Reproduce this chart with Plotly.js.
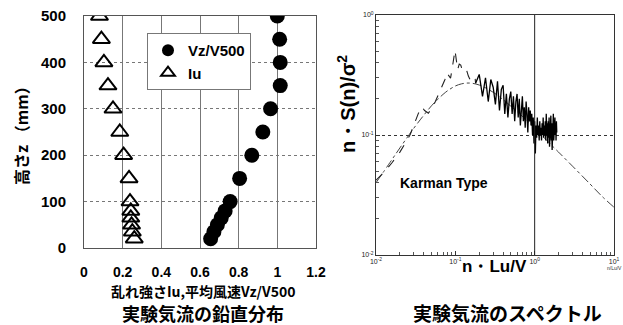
<!DOCTYPE html>
<html>
<head>
<meta charset="utf-8">
<script src="https://cdn.plot.ly/plotly-3.0.1.min.js"></script>
<style>html,body{margin:0;padding:0;background:#fff;}#chart{width:623px;height:325px;}</style>
</head>
<body>
<div id="chart"></div>
<script>
// ---- Left chart: vertical profile ----
const heights = [500, 450, 400, 350, 300, 250, 200, 150, 100, 80, 65, 50, 35, 20];
const vzRatio = [1.0, 1.012, 1.015, 1.015, 0.965, 0.925, 0.868, 0.805, 0.756, 0.73, 0.71, 0.69, 0.672, 0.655];
const iuValue = [0.08, 0.09, 0.103, 0.124, 0.15, 0.185, 0.205, 0.233, 0.238, 0.242, 0.242, 0.246, 0.25, 0.26];
const xTicks = [0, 0.2, 0.4, 0.6, 0.8, 1.0, 1.2];
const xTickText = ['0', '0.2', '0.4', '0.6', '0.8', '1', '1.2'];
const yTicks = [0, 100, 200, 300, 400, 500];

// ---- Right chart: spectrum ----
const karmanFreq = [0.01, 0.015, 0.02, 0.03, 0.04, 0.05, 0.06, 0.07, 0.08, 0.1, 0.12, 0.15, 0.2, 0.3, 0.4, 0.5, 0.7, 1.0, 1.5, 2, 3, 5, 7, 10];
const karmanVal  = [0.040, 0.059, 0.078, 0.114, 0.146, 0.175, 0.198, 0.218, 0.234, 0.256, 0.267, 0.271, 0.261, 0.227, 0.197, 0.174, 0.143, 0.114, 0.087, 0.072, 0.055, 0.039, 0.031, 0.025];

const measLowFreq = [0.01, 0.013, 0.016, 0.02, 0.024, 0.027, 0.031, 0.034, 0.0377, 0.041, 0.0457, 0.05, 0.056, 0.062, 0.068, 0.074, 0.078, 0.083, 0.087, 0.092, 0.099, 0.104, 0.107, 0.112, 0.117, 0.122, 0.126, 0.133, 0.139, 0.146, 0.153, 0.162, 0.17, 0.177, 0.18];
const measLowVal  = [0.042, 0.050, 0.059, 0.072, 0.088, 0.101, 0.128, 0.150, 0.172, 0.160, 0.152, 0.165, 0.19, 0.22, 0.25, 0.29, 0.33, 0.31, 0.297, 0.37, 0.51, 0.40, 0.35, 0.39, 0.383, 0.35, 0.337, 0.35, 0.345, 0.31, 0.29, 0.30, 0.31, 0.306, 0.27];

const measHighFreq = [0.18, 0.20, 0.22, 0.24, 0.26, 0.28, 0.30, 0.32, 0.34, 0.36, 0.38, 0.40, 0.42, 0.44, 0.46, 0.48, 0.50, 0.52, 0.54, 0.56, 0.58, 0.60, 0.62, 0.64, 0.66, 0.68, 0.70, 0.72, 0.74, 0.76, 0.78, 0.80, 0.82, 0.84, 0.86, 0.88, 0.90, 0.92, 0.94, 0.96, 0.98, 1.00, 1.02, 1.04, 1.06, 1.08, 1.10, 1.12, 1.14, 1.16, 1.18, 1.20, 1.22, 1.24, 1.26, 1.28, 1.30, 1.32, 1.34, 1.36, 1.38, 1.40, 1.42, 1.44, 1.46, 1.48, 1.50, 1.52, 1.54, 1.56, 1.58, 1.60, 1.62, 1.64, 1.66, 1.68, 1.70, 1.72, 1.74, 1.76, 1.78, 1.80, 1.82, 1.84, 1.86, 1.88, 1.90];
const measHighVal  = [0.27, 0.32, 0.21, 0.30, 0.19, 0.29, 0.25, 0.18, 0.28, 0.16, 0.24, 0.26, 0.15, 0.22, 0.14, 0.20, 0.23, 0.15, 0.21, 0.13, 0.19, 0.22, 0.14, 0.20, 0.12, 0.18, 0.21, 0.13, 0.17, 0.115, 0.19, 0.15, 0.105, 0.17, 0.13, 0.16, 0.12, 0.15, 0.10, 0.14, 0.085, 0.13, 0.07, 0.12, 0.095, 0.14, 0.10, 0.12, 0.09, 0.13, 0.10, 0.115, 0.09, 0.125, 0.10, 0.14, 0.095, 0.12, 0.10, 0.13, 0.09, 0.15, 0.10, 0.125, 0.085, 0.13, 0.095, 0.14, 0.08, 0.12, 0.10, 0.145, 0.09, 0.125, 0.075, 0.13, 0.10, 0.15, 0.09, 0.12, 0.095, 0.14, 0.10, 0.125, 0.09, 0.13, 0.105];
const logTicks = ['10<sup>-2</sup>', '10<sup>-1</sup>', '10<sup>0</sup>', '10<sup>1</sup>'];
const minorLogX = [0.02,0.03,0.04,0.05,0.06,0.07,0.08,0.09,0.2,0.3,0.4,0.5,0.6,0.7,0.8,0.9,2,3,4,5,6,7,8,9];
const minorLogY = [0.02,0.03,0.04,0.05,0.06,0.07,0.08,0.09,0.2,0.3,0.4,0.5,0.6,0.7,0.8,0.9];

const W = 623, H = 325;
const px = v => v / W;
const py = v => 1 - v / H;
const bold = (size, fam) => ({family: fam || 'Liberation Sans, Arial, sans-serif', size: size, color: '#000', weight: 'bold'});
const cjk = 'Noto Sans CJK JP, sans-serif';

const traces = [
  {x: vzRatio, y: heights, type: 'scatter', mode: 'markers', name: 'Vz/V500',
   marker: {symbol: 'circle', size: 15, color: '#000'}, xaxis: 'x', yaxis: 'y'},
  {x: iuValue, y: heights, type: 'scatter', mode: 'markers', name: 'Iu',
   marker: {symbol: 'triangle-up-open', size: 15, color: '#000', line: {width: 2, color: '#000'}}, xaxis: 'x', yaxis: 'y'},
  {x: karmanFreq, y: karmanVal, type: 'scatter', mode: 'lines', showlegend: false,
   line: {color: '#444', width: 1, dash: 'dashdot', shape: 'spline'}, xaxis: 'x2', yaxis: 'y2'},
  {x: measLowFreq, y: measLowVal, type: 'scatter', mode: 'lines', showlegend: false,
   line: {color: '#222', width: 1.1, dash: 'dash'}, xaxis: 'x2', yaxis: 'y2'},
  {x: measHighFreq, y: measHighVal, type: 'scatter', mode: 'lines', showlegend: false,
   line: {color: '#000', width: 1.3}, xaxis: 'x2', yaxis: 'y2'}
];

const layout = {
  width: W, height: H, autosize: false,
  margin: {l: 0, r: 0, t: 0, b: 0},
  paper_bgcolor: '#fff', plot_bgcolor: '#fff',
  showlegend: true,
  legend: {x: px(147), y: py(33), xanchor: 'left', yanchor: 'top', bgcolor: '#fff',
           bordercolor: '#777', borderwidth: 1, font: bold(15), itemsizing: 'constant',
           tracegroupgap: 0, itemwidth: 30},
  xaxis: {domain: [px(84), px(316)], range: [0, 1.2], tickmode: 'array', tickvals: xTicks, ticktext: xTickText,
          showgrid: true, gridcolor: '#777', gridwidth: 1, zeroline: false, showline: true, mirror: true,
          linecolor: '#555', linewidth: 1, ticks: '', tickfont: bold(14), ticklabelstandoff: 11, anchor: 'y'},
  yaxis: {domain: [1 - 248 / H, 1 - 16 / H], range: [0, 500], tickmode: 'array', tickvals: yTicks,
          showgrid: true, gridcolor: '#777', griddash: 'dot', zeroline: false, showline: true, mirror: true,
          linecolor: '#555', linewidth: 1, ticks: '', tickfont: bold(15), ticklabelstandoff: 14, anchor: 'x'},
  xaxis2: {type: 'log', domain: [px(376), px(614)], range: [-2, 1], tickmode: 'array',
           tickvals: [0.01, 0.1, 1, 10], ticktext: logTicks,
           showgrid: false, zeroline: false, showline: true, mirror: true,
           linecolor: '#333', linewidth: 1, ticks: 'inside', ticklen: 4, tickcolor: '#333',
           minor: {ticks: 'inside', ticklen: 3, tickcolor: '#555', showgrid: false, tickvals: minorLogX},
           tickfont: {family: 'Liberation Sans, Arial', size: 7, color: '#222'}, anchor: 'y2'},
  yaxis2: {type: 'log', domain: [1 - 255 / H, 1 - 15 / H], range: [-2, 0], tickmode: 'array',
           tickvals: [0.01, 0.1, 1], ticktext: [logTicks[0], logTicks[1], logTicks[2]],
           showgrid: true, gridcolor: '#333', griddash: 'dot', gridwidth: 1, zeroline: false, showline: true, mirror: true,
           linecolor: '#333', linewidth: 1, ticks: 'inside', ticklen: 4, tickcolor: '#333',
           minor: {ticks: 'inside', ticklen: 3, tickcolor: '#555', showgrid: false, tickvals: minorLogY},
           tickfont: {family: 'Liberation Sans, Arial', size: 7, color: '#222'}, anchor: 'x2'},
  shapes: [
    {type: 'line', xref: 'x2', yref: 'y2 domain', x0: 1, x1: 1, y0: 0, y1: 1,
     line: {color: '#222', width: 1}}
  ],
  annotations: [
    {text: '高さz （mm）', x: px(21), y: py(132), xref: 'paper', yref: 'paper', showarrow: false,
     textangle: -90, font: bold(16, cjk), xanchor: 'center', yanchor: 'middle'},
    {text: '乱れ強さIu,平均風速Vz/V500', x: px(203), y: py(291), xref: 'paper', yref: 'paper', showarrow: false,
     font: bold(14, cjk), xanchor: 'center', yanchor: 'middle'},
    {text: '実験気流の鉛直分布', x: px(203), y: py(313), xref: 'paper', yref: 'paper', showarrow: false,
     font: bold(18, cjk), xanchor: 'center', yanchor: 'middle'},
    {text: 'n・S(n)/σ<sup>2</sup>', x: px(346), y: py(104), xref: 'paper', yref: 'paper', showarrow: false,
     textangle: -90, font: bold(20), xanchor: 'center', yanchor: 'middle'},
    {text: 'n・Lu/V', x: px(494), y: py(266), xref: 'paper', yref: 'paper', showarrow: false,
     font: bold(17), xanchor: 'center', yanchor: 'middle'},
    {text: '実験気流のスペクトル', x: px(507), y: py(312), xref: 'paper', yref: 'paper', showarrow: false,
     font: bold(19, cjk), xanchor: 'center', yanchor: 'middle'},
    {text: 'Karman Type', x: px(398), y: py(183), xref: 'paper', yref: 'paper', showarrow: false,
     font: bold(14), xanchor: 'left', yanchor: 'middle'},
    {text: 'n/Lu/V', x: px(614), y: py(268), xref: 'paper', yref: 'paper', showarrow: false,
     font: {family: 'Liberation Sans, Arial', size: 5, color: '#333'}, xanchor: 'center', yanchor: 'middle'}
  ]
};

Plotly.newPlot('chart', traces, layout, {displayModeBar: false, staticPlot: true});
</script>
</body>
</html>
